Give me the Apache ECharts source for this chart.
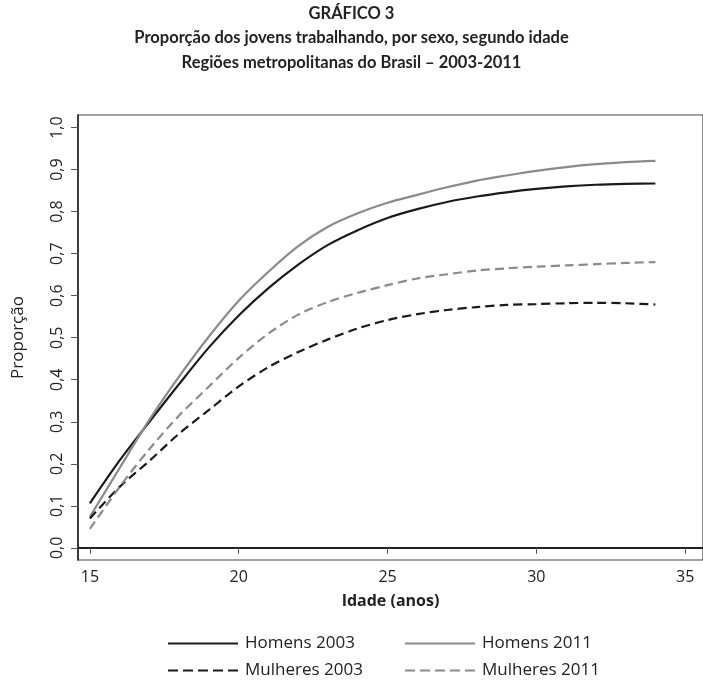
<!DOCTYPE html>
<html>
<head>
<meta charset="utf-8">
<script src="https://cdn.jsdelivr.net/npm/echarts@6/dist/echarts.min.js"></script>
<style>
html,body{margin:0;padding:0;background:#fff;}
#chart{width:703px;height:680px;}
</style>
</head>
<body>
<div id="chart"></div>
<script>
const ages = [15,16,17,18,19,20,21,22,23,24,25,26,27,28,29,30,31,32,33,34];
const homens2003   = [0.106,0.208,0.300,0.390,0.477,0.553,0.618,0.674,0.721,0.756,0.785,0.806,0.823,0.836,0.846,0.854,0.860,0.864,0.866,0.867];
const homens2011   = [0.074,0.190,0.305,0.408,0.503,0.588,0.657,0.718,0.764,0.796,0.821,0.840,0.858,0.874,0.886,0.897,0.906,0.913,0.918,0.921];
const mulheres2003 = [0.070,0.145,0.207,0.272,0.328,0.384,0.430,0.466,0.496,0.522,0.542,0.556,0.566,0.573,0.578,0.580,0.582,0.583,0.582,0.579];
const mulheres2011 = [0.045,0.145,0.235,0.315,0.384,0.452,0.510,0.555,0.585,0.607,0.625,0.641,0.651,0.660,0.665,0.669,0.672,0.675,0.678,0.680];
const xTicks = [15,20,25,30,35];
const yTicks = [0,0.1,0.2,0.3,0.4,0.5,0.6,0.7,0.8,0.9,1.0];
const seriesNames = ['Homens 2003','Homens 2011','Mulheres 2003','Mulheres 2011'];

const pair = arr => ages.map((a,i)=>[a,arr[i]]);
const BLACK = '#1a1a1a', GRAY = '#8a8a8a';
const FONT = 'Open Sans';
const SOLID_ICON = 'path://M0,0H70V2H0Z';
const DASH_ICON = 'path://M0,0H10V2H0Z M15,0H25V2H15Z M30,0H40V2H30Z M45,0H55V2H45Z M60,0H70V2H60Z';

function leg(name, icon, left, top){
  return {data:[name], left:left, top:top, itemWidth:70, itemHeight:2, icon:icon,
    itemStyle:{opacity:1}, textStyle:{fontFamily:FONT,fontSize:17,color:'#222',padding:[0,0,0,2]}};
}

const chart = echarts.init(document.getElementById('chart'));
chart.setOption({
  animation:false,
  backgroundColor:'#fff',
  title:{
    text:'GRÁFICO 3\nProporção dos jovens trabalhando, por sexo, segundo idade\nRegiões metropolitanas do Brasil – 2003-2011',
    left:'center', top:-4,
    textStyle:{fontFamily:'Lato',fontWeight:'bold',fontSize:16.5,lineHeight:24.5,color:'#222'}
  },
  grid:{left:78, top:115, width:632, height:445, show:true, borderColor:'#444', borderWidth:1.2},
  xAxis:{
    type:'value', min:14.6, max:35.6,
    name:'Idade (anos)', nameLocation:'middle', nameGap:33,
    nameTextStyle:{fontFamily:FONT,fontWeight:'bold',fontSize:16,color:'#222'},
    axisLine:{show:true,lineStyle:{color:'#222',width:2}},
    axisTick:{show:true,length:6,lineStyle:{color:'#555'},customValues:xTicks},
    axisLabel:{fontFamily:FONT,fontSize:16,color:'#222',margin:9,customValues:xTicks},
    splitLine:{show:false}
  },
  yAxis:{
    type:'value', min:-0.029, max:1.03,
    name:'Proporção', nameLocation:'middle', nameGap:51, nameRotate:90,
    nameTextStyle:{fontFamily:FONT,fontSize:17,color:'#222'},
    axisLine:{show:true,lineStyle:{color:'#222',width:1.5}},
    axisTick:{show:true,length:7,lineStyle:{color:'#555'},customValues:yTicks},
    axisLabel:{fontFamily:FONT,fontSize:16,color:'#222',rotate:90,margin:13,customValues:yTicks,
      formatter:v=>v.toFixed(1).replace('.',',')},
    splitLine:{show:false}
  },
  legend:[
    leg(seriesNames[0], SOLID_ICON, 163, 630),
    leg(seriesNames[2], DASH_ICON, 163, 657),
    leg(seriesNames[1], SOLID_ICON, 400, 630),
    leg(seriesNames[3], DASH_ICON, 400, 657)
  ],
  series:[
    {name:seriesNames[0],type:'line',data:pair(homens2003),smooth:0.3,showSymbol:false,symbol:'none',
      lineStyle:{color:BLACK,width:2.2},itemStyle:{color:BLACK}},
    {name:seriesNames[1],type:'line',data:pair(homens2011),smooth:0.3,showSymbol:false,symbol:'none',
      lineStyle:{color:GRAY,width:2.2},itemStyle:{color:GRAY}},
    {name:seriesNames[2],type:'line',data:pair(mulheres2003),smooth:0.3,showSymbol:false,symbol:'none',
      lineStyle:{color:BLACK,width:2.2,type:[9,5]},itemStyle:{color:BLACK}},
    {name:seriesNames[3],type:'line',data:pair(mulheres2011),smooth:0.3,showSymbol:false,symbol:'none',
      lineStyle:{color:GRAY,width:2.2,type:[9,5]},itemStyle:{color:GRAY}}
  ]
});
</script>
</body>
</html>
